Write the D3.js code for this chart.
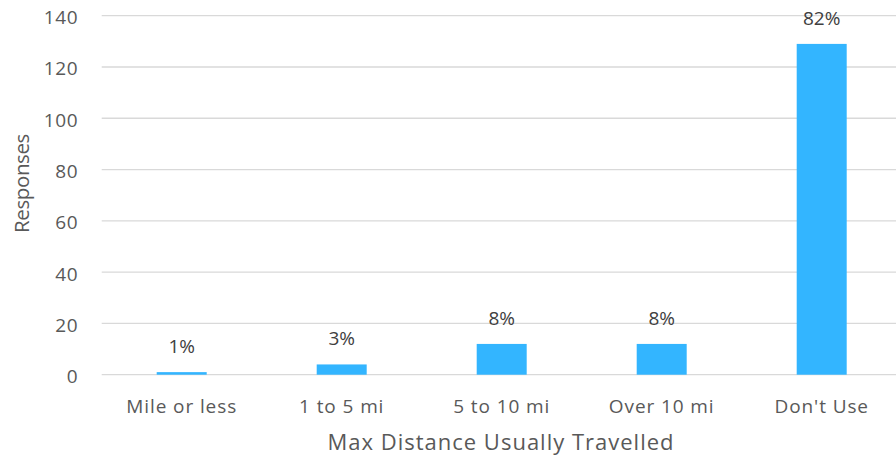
<!DOCTYPE html>
<html><head><meta charset="utf-8">
<script src="https://cdn.jsdelivr.net/npm/d3@7"></script>
<style>
html,body{margin:0;padding:0;background:#fff;}
svg{display:block;font-family:"Open Sans",sans-serif;}
</style></head>
<body><svg id="c" width="896" height="458"></svg>
<script>
const categories = ["Mile or less", "1 to 5 mi", "5 to 10 mi", "Over 10 mi", "Don't Use"];
const responses = [1, 4, 12, 12, 129];
const percentLabels = ["1%", "3%", "8%", "8%", "82%"];
const yTicks = [0, 20, 40, 60, 80, 100, 120, 140];
const xTitle = "Max Distance Usually Travelled";
const yTitle = "Responses";

(function () {
const svg = d3.select("#c");
const mLeft = 101.7, mRight = 901.7, mTop = 15.7, mBottom = 374.7;
const x = d3.scaleBand().domain(categories).range([mLeft, mRight]).paddingInner(110/160).paddingOuter(55/160);
const y = d3.scaleLinear().domain([0, 140]).range([mBottom, mTop]);
const textColor = "#595959";

// gridlines
svg.append("g").selectAll("line").data(yTicks).join("line")
  .attr("x1", mLeft).attr("x2", 896)
  .attr("y1", d => y(d)).attr("y2", d => y(d))
  .attr("stroke", "#d9d9d9").attr("stroke-width", 1.3);

// y axis labels
const yAxis = svg.append("g").attr("transform", `translate(${mLeft},0)`)
  .call(d3.axisLeft(y).tickValues(yTicks).tickSize(0).tickPadding(23.5));
yAxis.select(".domain").remove();
yAxis.selectAll("text").attr("fill", textColor).attr("dy", "0.42em")
  .style("font-size", "19px").style("letter-spacing", "0.6px").style("font-family", "'Open Sans',sans-serif");

// bars
svg.append("g").selectAll("rect").data(categories).join("rect")
  .attr("x", d => x(d)).attr("width", x.bandwidth())
  .attr("y", (d, i) => y(responses[i]))
  .attr("height", (d, i) => y(0) - y(responses[i]))
  .attr("fill", "#33b5ff");

// data labels
svg.append("g").selectAll("text").data(categories).join("text")
  .attr("x", d => x(d) + x.bandwidth() / 2)
  .attr("y", (d, i) => y(responses[i]) - 19)
  .attr("text-anchor", "middle")
  .attr("fill", "#404040").style("font-size", "19px")
  .text((d, i) => percentLabels[i]);

// x axis labels
const xAxis = svg.append("g").attr("transform", `translate(0,${mBottom})`)
  .call(d3.axisBottom(x).tickSize(0));
xAxis.select(".domain").remove();
xAxis.selectAll("text").attr("fill", textColor).attr("y", 38.3).attr("dy", "0")
  .style("font-size", "19px").style("letter-spacing", "0.9px").style("font-family", "'Open Sans',sans-serif");

// titles
svg.append("text").attr("x", 501).attr("y", 450).attr("text-anchor", "middle")
  .attr("fill", textColor).style("font-size", "22px").style("letter-spacing", "1px").text(xTitle);
svg.append("text").attr("transform", "translate(29,183.5) rotate(-90)").attr("text-anchor", "middle")
  .attr("fill", textColor).style("font-size", "20.5px").style("letter-spacing", "-0.4px").text(yTitle);
})();
</script></body></html>
